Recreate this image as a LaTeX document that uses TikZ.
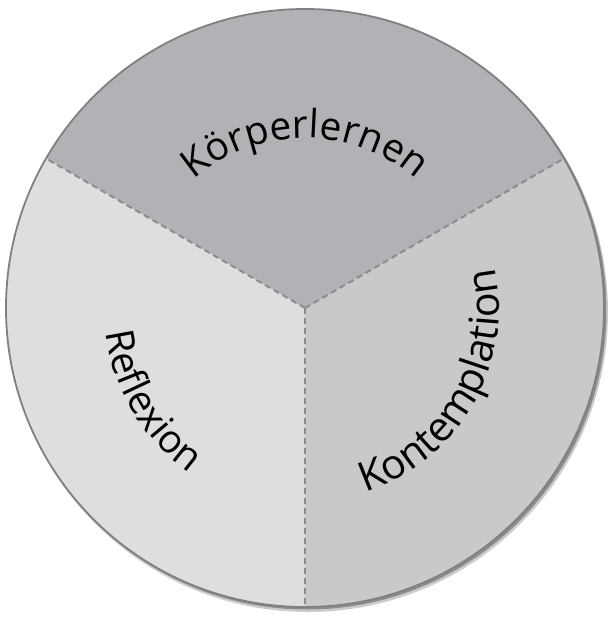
\documentclass[tikz,border=0pt]{standalone}
\usepackage{fontspec}
\setmainfont{Open Sans}
\usetikzlibrary{decorations.text}
\definecolor{segtop}{RGB}{177,178,181}
\definecolor{segleft}{RGB}{221,222,224}
\definecolor{segright}{RGB}{200,201,203}
\definecolor{rimgray}{RGB}{128,128,130}
\definecolor{dashgray}{RGB}{140,140,142}
\newcommand{\labelfont}{\fontsize{19.5}{23}\selectfont}
\begin{document}
\begin{tikzpicture}[x=0.5pt, y=0.5pt, line width=0.9pt,
  divider/.style={draw=dashgray, dash pattern=on 3pt off 2pt, line width=1pt},
  arclabel/.style={decorate, decoration={text along path, text align=center, text={#1}}}]
  \useasboundingbox (-305,-310) rectangle (303,308);
  \coordinate (c) at (0,0);
  \coordinate (left) at (150:299);
  \coordinate (right) at (30:299);
  \coordinate (bottom) at (270:299);
  % shadow and sectors
  \fill[black!20] (3,-4) circle[radius=300];
  \fill[black!45] (2,-2) circle[radius=299.5];
  \fill[segtop] (c) -- (left) arc[start angle=150, end angle=30, radius=299] -- cycle;
  \fill[segleft] (c) -- (bottom) arc[start angle=270, end angle=150, radius=299] -- cycle;
  \fill[segright] (c) -- (right) arc[start angle=30, end angle=-90, radius=299] -- cycle;
  \draw[divider] (c) -- (left);
  \draw[divider] (c) -- (right);
  \draw[divider] (c) -- (bottom);
  \draw[rimgray] (c) circle[radius=299];
  % labels
  \path[arclabel={|\labelfont|Körperlernen}] (128:170) arc[start angle=128, end angle=52, radius=170];
  \path[arclabel={|\labelfont|Reflexion}] (180:201) arc[start angle=180, end angle=242, radius=201];
  \path[arclabel={|\fontsize{20.5}{24}\selectfont|Kontemplation}] (-80:194) arc[start angle=-80, end angle=20, radius=194];
\end{tikzpicture}
\end{document}
